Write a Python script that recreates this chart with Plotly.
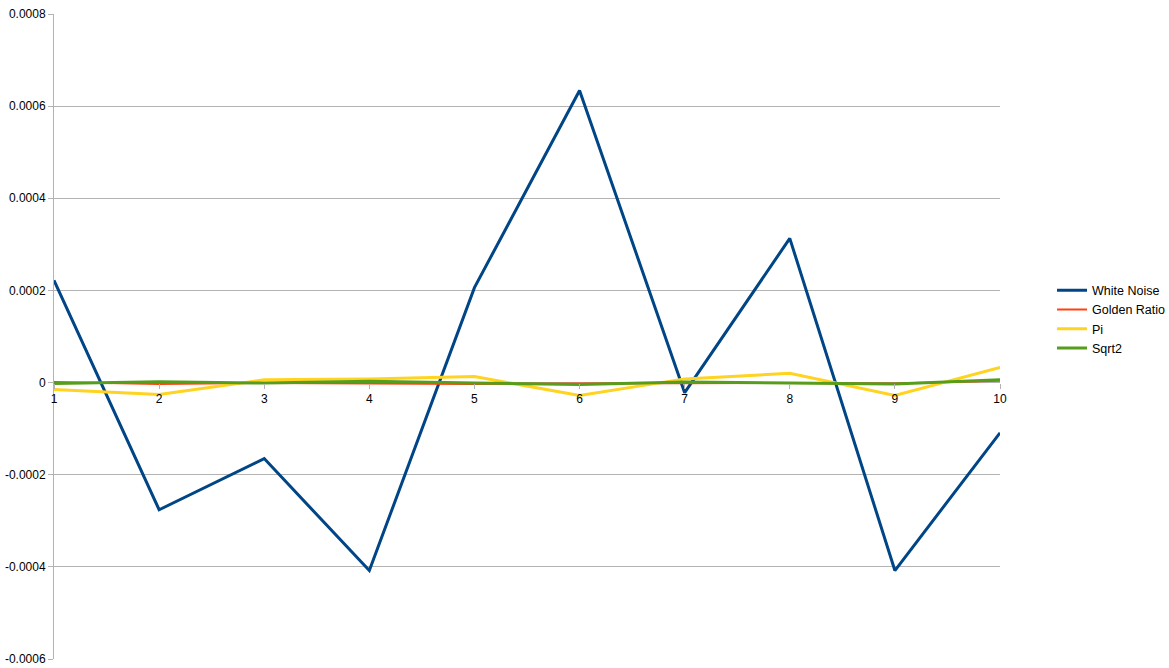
import plotly.graph_objects as go

categories = [1, 2, 3, 4, 5, 6, 7, 8, 9, 10]
white_noise = [0.000222, -0.000276, -0.000165, -0.000408, 0.000206, 0.000634, -0.000022, 0.000313, -0.000408, -0.000109]
golden_ratio = [0.000001, -0.000003, -0.000001, -0.000002, -0.000003, -0.000002, -0.000001, -0.000001, -0.000002, 0.000004]
pi_vals = [-0.000015, -0.000026, 0.000006, 0.000008, 0.000013, -0.000028, 0.000008, 0.000020, -0.000028, 0.000033]
sqrt2 = [-0.000002, 0.000002, -0.000001, 0.000003, -0.000001, -0.000004, 0.000001, -0.000001, -0.000003, 0.000006]

y_ticks = [0.0008, 0.0006, 0.0004, 0.0002, 0, -0.0002, -0.0004, -0.0006]
y_labels = ["0.0008", "0.0006", "0.0004", "0.0002", "0", "-0.0002", "-0.0004", "-0.0006"]

fig = go.Figure()
fig.add_trace(go.Scatter(x=categories, y=white_noise, mode="lines", name="White Noise",
                         line=dict(color="#004586", width=3)))
fig.add_trace(go.Scatter(x=categories, y=golden_ratio, mode="lines", name="Golden Ratio",
                         line=dict(color="#ff420e", width=2)))
fig.add_trace(go.Scatter(x=categories, y=pi_vals, mode="lines", name="Pi",
                         line=dict(color="#ffd320", width=3)))
fig.add_trace(go.Scatter(x=categories, y=sqrt2, mode="lines", name="Sqrt2",
                         line=dict(color="#579d1c", width=3)))

ymin, ymax = -0.0006, 0.0008
fig.update_layout(
    width=1169, height=668,
    margin=dict(l=54, r=169, t=14, b=9, autoexpand=False),
    paper_bgcolor="white", plot_bgcolor="white",
    font=dict(family="Liberation Sans, Arial, sans-serif", size=12, color="black"),
    xaxis=dict(
        range=[1, 10], tickvals=categories, ticktext=[str(c) for c in categories],
        showgrid=False, zeroline=False, showline=False, automargin=False,
        ticks="outside", ticklen=5, tickcolor="#b3b3b3",
        anchor="free", position=(0 - ymin) / (ymax - ymin),
    ),
    yaxis=dict(
        range=[ymin, ymax], tickvals=y_ticks, ticktext=y_labels,
        showgrid=True, gridcolor="#b3b3b3", gridwidth=1, automargin=False,
        zeroline=False, showline=True, linecolor="#b3b3b3", linewidth=1,
        ticks="outside", ticklen=5, tickcolor="#b3b3b3",
    ),
    legend=dict(x=1.055, y=0.527, xanchor="left", yanchor="middle",
                font=dict(size=12.5), tracegroupgap=0, itemwidth=30),
    showlegend=True,
)

fig.write_html("out.html", config={"displayModeBar": False},
               post_script="document.body.style.margin='0px';document.body.style.padding='0px';")
